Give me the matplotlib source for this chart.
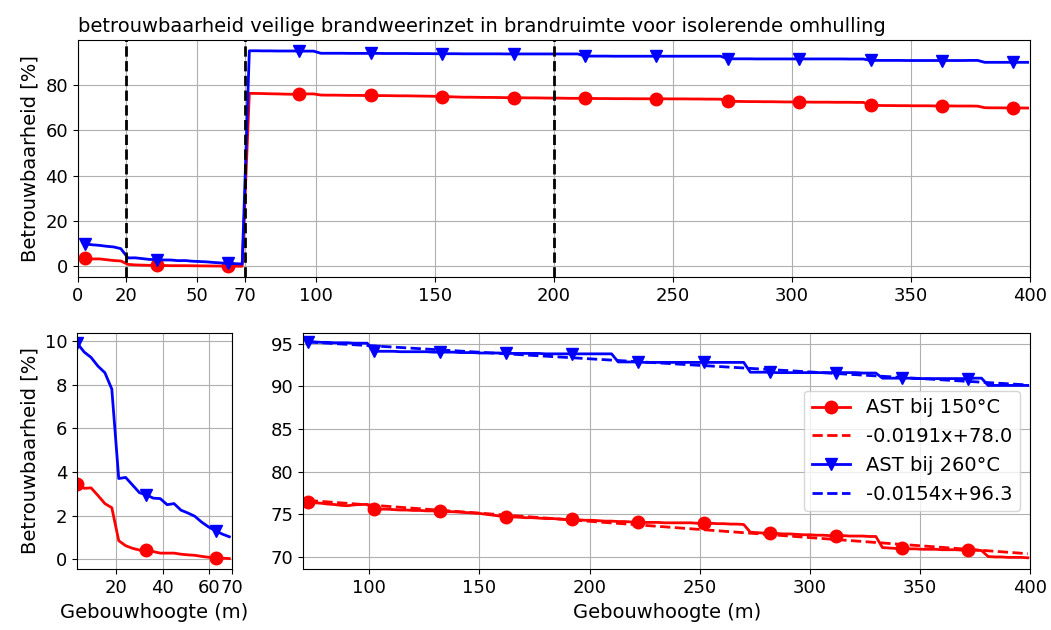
import numpy as np
import matplotlib
matplotlib.use("Agg")
import matplotlib.pyplot as plt

plt.rcParams['font.size'] = 14
plt.rcParams['xtick.labelsize'] = 13
plt.rcParams['ytick.labelsize'] = 13

# Building height per storey (3 m floor height)
heights = np.arange(3, 400, 3)

# Reliability [%] with AST at 150 °C
ast150 = np.array([
    3.45, 3.25, 3.27, 2.92, 2.55, 2.36, 0.85, 0.62, 0.5, 0.42, 0.4, 0.35,
    0.28, 0.28, 0.28, 0.23, 0.2, 0.18, 0.13, 0.09, 0.07, 0.05, 0.03,
    76.4, 76.35, 76.3, 76.2, 76.15, 76.05, 76.0, 76.1, 76.15, 76.15,
    75.65, 75.6, 75.6, 75.55, 75.5, 75.5, 75.45, 75.45, 75.4, 75.4, 75.35,
    75.3, 75.3, 75.25, 75.2, 75.15, 75.1, 75.0, 74.9, 74.8, 74.7, 74.7,
    74.65, 74.6, 74.6, 74.55, 74.5, 74.5, 74.45, 74.4, 74.4, 74.35, 74.3,
    74.3, 74.25, 74.2, 74.2,
    74.15, 74.15, 74.1, 74.1, 74.05, 74.05, 74.05, 74.0, 74.0, 74.0, 74.0,
    74.0, 73.95, 73.95, 73.95, 73.9, 73.9, 73.85, 73.85, 73.8,
    72.9, 72.85, 72.8, 72.75, 72.75, 72.7, 72.7, 72.65, 72.6, 72.6, 72.55,
    72.55, 72.5, 72.5, 72.5, 72.45, 72.45, 72.45, 72.4, 72.4,
    71.1, 71.05, 71.0, 71.0, 70.95, 70.95, 70.9, 70.9, 70.9, 70.85, 70.85,
    70.85, 70.8, 70.8, 70.8, 70.75,
    70.05, 70.0, 70.0, 69.95, 69.95, 69.95, 69.9,
])

# Reliability [%] with AST at 260 °C
ast260 = np.array([
    9.9, 9.5, 9.25, 8.85, 8.55, 7.8, 3.7, 3.75, 3.4, 3.05, 2.95, 2.8, 2.78,
    2.5, 2.55, 2.25, 2.12, 1.97, 1.7, 1.48, 1.3, 1.15, 1.03,
    95.2, 95.2, 95.15, 95.15, 95.1, 95.1, 95.1, 95.05, 95.05, 95.05,
    94.1, 94.1, 94.1, 94.1, 94.05, 94.05, 94.05, 94.05, 94.05, 94.0, 94.0,
    94.0, 94.0, 93.95, 93.95, 93.95, 93.9, 93.9, 93.9, 93.9, 93.85, 93.85,
    93.85, 93.85, 93.85, 93.85, 93.8, 93.8, 93.8, 93.8, 93.8, 93.8, 93.8,
    93.8, 93.8, 93.8, 93.8,
    92.85, 92.85, 92.85, 92.85, 92.8, 92.8, 92.8, 92.8, 92.8, 92.8, 92.8,
    92.8, 92.8, 92.8, 92.8, 92.8, 92.8, 92.8, 92.8, 92.8,
    91.65, 91.65, 91.65, 91.65, 91.6, 91.6, 91.6, 91.6, 91.6, 91.6, 91.6,
    91.6, 91.6, 91.6, 91.6, 91.6, 91.6, 91.55, 91.55, 91.55,
    90.95, 90.95, 90.95, 90.95, 90.95, 90.9, 90.9, 90.9, 90.9, 90.9, 90.9,
    90.9, 90.9, 90.9, 90.95, 90.95,
    90.1, 90.1, 90.1, 90.1, 90.1, 90.1, 90.1,
])

# Linear trend (slope, intercept) above 70 m
fit150 = (-0.0191, 78.0)
fit260 = (-0.0154, 96.3)

phase_bounds = [20, 70, 200]
top_xticks = [0, 20, 50, 70, 100, 150, 200, 250, 300, 350, 400]
low_xticks = [20, 40, 60, 70]

style150 = dict(color='red', marker='o', lw=2, ms=9, markevery=10)
style260 = dict(color='blue', marker='v', lw=2, ms=9, markevery=10)

fig = plt.figure(figsize=(10.51, 6.30), dpi=100)
ax_top = fig.add_axes([0.0742, 0.5603, 0.9058, 0.3762])
ax_low = fig.add_axes([0.0735, 0.0963, 0.1469, 0.3759])
ax_high = fig.add_axes([0.2886, 0.0963, 0.6914, 0.3759])

# Full height range
ax_top.plot(heights, ast150, **style150)
ax_top.plot(heights, ast260, **style260)
for xb in phase_bounds:
    ax_top.axvline(xb, color='black', ls='--', lw=2)
ax_top.set_xlim(0, 400)
ax_top.set_xticks(top_xticks)
ax_top.set_ylabel('Betrouwbaarheid [%]')
ax_top.set_title('betrouwbaarheid veilige brandweerinzet in brandruimte voor '
                 'isolerende omhulling', loc='left', fontsize=14)
ax_top.grid(True)

# Low-rise part (< 70 m)
low = heights < 70
ax_low.plot(heights[low], ast150[low], **style150)
ax_low.plot(heights[low], ast260[low], **style260)
ax_low.set_xlim(heights[low][0], 70)
ax_low.set_xticks(low_xticks)
ax_low.set_ylabel('Betrouwbaarheid [%]')
ax_low.set_xlabel('Gebouwhoogte (m)')
ax_low.grid(True)

# High-rise part (>= 70 m) with linear trends
high = ~low
hx = heights[high]
ax_high.plot(hx, ast150[high], label='AST bij 150°C', **style150)
ax_high.plot(hx, fit150[0] * hx + fit150[1], color='red', ls='--', lw=2,
             label=f'{fit150[0]:.4f}x+{fit150[1]:.1f}')
ax_high.plot(hx, ast260[high], label='AST bij 260°C', **style260)
ax_high.plot(hx, fit260[0] * hx + fit260[1], color='blue', ls='--', lw=2,
             label=f'{fit260[0]:.4f}x+{fit260[1]:.1f}')
ax_high.set_xlim(70, 400)
ax_high.set_ylim(68.55, 96.3)
ax_high.set_xlabel('Gebouwhoogte (m)')
ax_high.grid(True)
ax_high.legend(loc='center right', fontsize=14)

fig.savefig('out.png', dpi=100)
